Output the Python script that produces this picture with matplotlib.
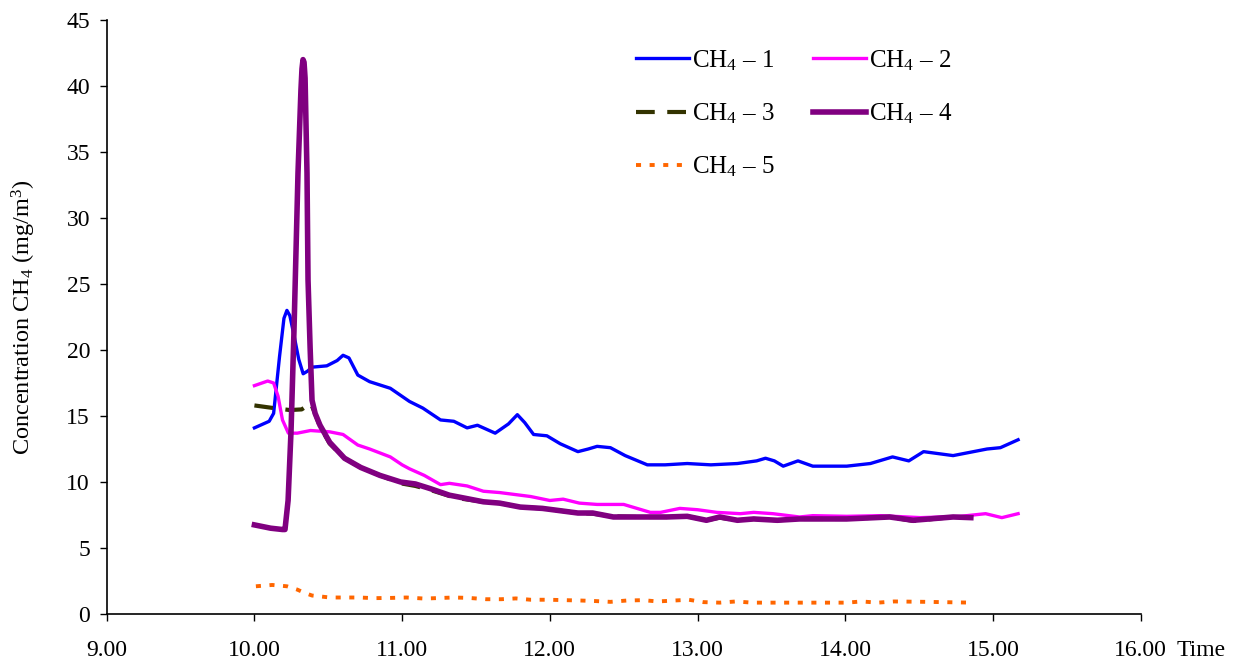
import matplotlib
matplotlib.use("Agg")
import matplotlib.pyplot as plt

plt.rcParams['font.family'] = ['Liberation Serif', 'DejaVu Serif']
plt.rcParams['mathtext.fontset'] = 'custom'
plt.rcParams['mathtext.rm'] = 'Liberation Serif'
plt.rcParams['mathtext.it'] = 'Liberation Serif:italic'
plt.rcParams['mathtext.bf'] = 'Liberation Serif:bold'

# ---- data (time in hours, concentration in mg/m3) ----
t1 = [10.00, 10.10, 10.13, 10.17, 10.20, 10.22, 10.24, 10.27, 10.30, 10.33, 10.36, 10.39,
      10.49, 10.56, 10.60, 10.64, 10.70, 10.78, 10.92, 11.05, 11.14, 11.26, 11.35, 11.44,
      11.51, 11.63, 11.72, 11.78, 11.83, 11.89, 11.98, 12.07, 12.19, 12.26, 12.32, 12.41,
      12.51, 12.66, 12.78, 12.93, 13.09, 13.27, 13.40, 13.46, 13.52, 13.58, 13.68, 13.78,
      14.01, 14.17, 14.32, 14.43, 14.53, 14.73, 14.96, 15.05, 15.17]
ch4_1 = [14.1, 14.6, 15.2, 19.5, 22.4, 23.0, 22.6, 21.0, 19.3, 18.2, 18.4, 18.7,
         18.8, 19.2, 19.6, 19.4, 18.1, 17.6, 17.1, 16.1, 15.6, 14.7, 14.6, 14.1,
         14.3, 13.7, 14.4, 15.1, 14.5, 13.6, 13.5, 12.9, 12.3, 12.5, 12.7, 12.6,
         12.0, 11.3, 11.3, 11.4, 11.3, 11.4, 11.6, 11.8, 11.6, 11.2, 11.6, 11.2,
         11.2, 11.4, 11.9, 11.6, 12.3, 12.0, 12.5, 12.6, 13.2]

t2 = [10.00, 10.09, 10.13, 10.16, 10.19, 10.23, 10.29, 10.38, 10.51, 10.60, 10.70, 10.78,
      10.92, 11.00, 11.05, 11.15, 11.26, 11.32, 11.44, 11.55, 11.66, 11.87, 12.00, 12.09,
      12.20, 12.32, 12.50, 12.68, 12.75, 12.88, 13.00, 13.13, 13.29, 13.38, 13.51, 13.69,
      13.78, 14.01, 14.24, 14.51, 14.78, 14.95, 15.06, 15.17]
ch4_2 = [17.3, 17.65, 17.5, 16.5, 14.7, 13.7, 13.7, 13.9, 13.8, 13.6, 12.8, 12.5,
         11.9, 11.3, 11.0, 10.5, 9.8, 9.9, 9.7, 9.3, 9.2, 8.9, 8.6, 8.7,
         8.4, 8.3, 8.3, 7.7, 7.7, 8.0, 7.9, 7.7, 7.6, 7.7, 7.6, 7.35,
         7.45, 7.4, 7.45, 7.3, 7.4, 7.6, 7.3, 7.6]

t3 = [10.00, 10.13, 10.24, 10.32, 10.36, 10.38, 10.41, 10.44, 10.51, 10.61, 10.72, 10.85,
      10.99, 11.09, 11.19, 11.36, 11.55, 11.66, 11.80, 11.95, 12.19, 12.29, 12.43, 12.59,
      12.79, 12.93, 13.06, 13.15, 13.27, 13.38, 13.54, 13.69, 13.78, 14.01, 14.30, 14.46,
      14.73, 14.85]
ch4_3 = [15.8, 15.6, 15.45, 15.5, 15.8, 16.0, 15.2, 14.3, 12.9, 11.8, 11.1, 10.5,
         9.9, 9.7, 9.4, 8.8, 8.5, 8.4, 8.1, 8.0, 7.65, 7.6, 7.4, 7.35,
         7.35, 7.4, 7.1, 7.3, 7.1, 7.2, 7.1, 7.2, 7.2, 7.2, 7.35, 7.05,
         7.35, 7.3]

t4 = [10.00, 10.11, 10.19, 10.207, 10.228, 10.248, 10.268, 10.295, 10.315, 10.322, 10.329,
      10.336, 10.343, 10.356, 10.363, 10.377, 10.390, 10.411, 10.444, 10.51, 10.61, 10.72,
      10.85, 10.99, 11.09, 11.19, 11.32, 11.55, 11.66, 11.80, 11.95, 12.19, 12.29, 12.43,
      12.59, 12.79, 12.93, 13.06, 13.15, 13.27, 13.38, 13.54, 13.69, 13.78, 14.01, 14.30,
      14.46, 14.73, 14.85]
ch4_4 = [6.75, 6.5, 6.4, 6.4, 8.6, 13.9, 21.5, 33.4, 39.7, 41.3, 42.0,
         41.8, 40.6, 33.4, 25.3, 20.2, 16.2, 15.2, 14.3, 13.0, 11.8, 11.1,
         10.5, 10.0, 9.85, 9.5, 9.0, 8.5, 8.4, 8.1, 8.0, 7.65, 7.65, 7.35,
         7.35, 7.35, 7.4, 7.1, 7.35, 7.1, 7.2, 7.1, 7.2, 7.2, 7.2, 7.35,
         7.1, 7.35, 7.3]

t5 = [10.01, 10.12, 10.22, 10.29, 10.34, 10.39, 10.51, 10.71, 10.81, 10.93, 11.03, 11.15,
      11.35, 11.45, 11.57, 11.67, 11.77, 11.87, 11.99, 12.21, 12.31, 12.41, 12.52, 12.63,
      12.73, 12.84, 12.94, 13.04, 13.15, 13.26, 13.37, 13.71, 14.01, 14.11, 14.22, 14.33,
      14.55, 14.86]
ch4_5 = [2.1, 2.2, 2.1, 1.85, 1.6, 1.4, 1.25, 1.25, 1.2, 1.22, 1.25, 1.17,
         1.25, 1.22, 1.12, 1.12, 1.18, 1.08, 1.08, 1.02, 0.98, 0.92, 1.02, 1.05,
         0.95, 1.02, 1.08, 0.9, 0.86, 0.95, 0.86, 0.86, 0.86, 0.95, 0.86, 0.95,
         0.92, 0.86]

x_ticks = [9, 10, 11, 12, 13, 14, 15, 16]
x_tick_labels = ["9.00", "10.00", "11.00", "12.00", "13.00", "14.00", "15.00", "16.00"]
y_ticks = [0, 5, 10, 15, 20, 25, 30, 35, 40, 45]
labels = ["CH$_4$ – 1", "CH$_4$ – 2", "CH$_4$ – 3", "CH$_4$ – 4", "CH$_4$ – 5"]

W, H = 1239, 661
fig = plt.figure(figsize=(W / 100, H / 100), dpi=100)
ax = fig.add_axes([106.7 / W, (H - 614) / H, (1140.7 - 106.7) / W, (614 - 20) / H])

l1, = ax.plot(t1, ch4_1, color='#0000FF', lw=2.4, label=labels[0], solid_joinstyle='round')
l2, = ax.plot(t2, ch4_2, color='#FF00FF', lw=2.4, label=labels[1], solid_joinstyle='round')
l3, = ax.plot(t3, ch4_3, color='#333300', lw=3.0, label=labels[2], dashes=(4.5, 3.0))
l4, = ax.plot(t4, ch4_4, color='#800080', lw=4.0, label=labels[3], solid_joinstyle='round')
l5, = ax.plot(t5, ch4_5, color='#FF6600', lw=2.8, label=labels[4], dashes=(1.3, 2.2))

ax.set_xlim(9, 16)
ax.set_ylim(0, 45)
ax.set_xticks(x_ticks)
ax.set_xticklabels(x_tick_labels)
ax.set_yticks(y_ticks)
ax.tick_params(axis='both', direction='out', length=5, width=1, labelsize=17, colors='black')
ax.tick_params(axis='y', pad=7)
ax.tick_params(axis='x', pad=14)
for s in ['top', 'right']:
    ax.spines[s].set_visible(False)
for s in ['left', 'bottom']:
    ax.spines[s].set_linewidth(1.2)

ax.set_ylabel("Concentration CH$_4$ (mg/m$^3$)", fontsize=17.5)
ax.yaxis.set_label_coords(-0.066, 0.5)

fig.text(1177 / W, 1 - 656 / H, "Time", fontsize=17, va='baseline', ha='left')

handles = [l1, l3, l5, l2, l4]
leg = fig.legend(handles, [h.get_label() for h in handles], loc='upper left',
                 bbox_to_anchor=(636 / W, 1 - 48 / H), ncol=2, frameon=False,
                 fontsize=18, handlelength=2.1, handletextpad=0.12, columnspacing=1.55,
                 labelspacing=1.15, borderpad=0, borderaxespad=0)

fig.savefig("out.png", dpi=100)
